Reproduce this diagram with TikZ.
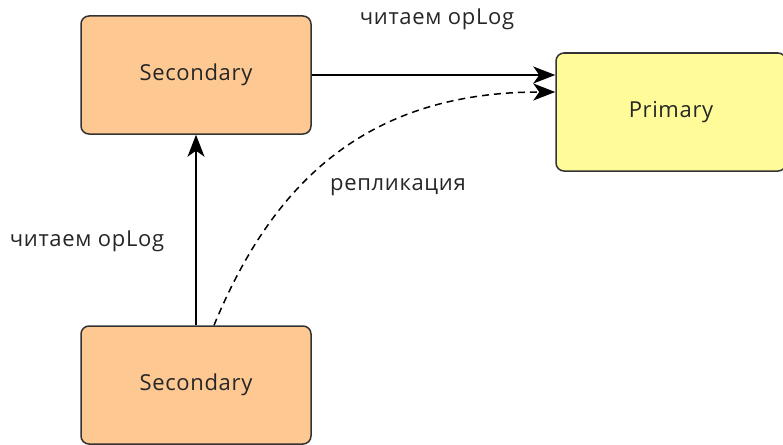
\documentclass[tikz,border=0pt]{standalone}
\usepackage{fontspec}
\setmainfont{Open Sans}[LetterSpace=3]
\usetikzlibrary{arrows.meta}
\definecolor{secfill}{HTML}{FEC893}
\definecolor{primfill}{HTML}{FEFB98}
\definecolor{edge}{HTML}{333333}
\tikzset{
  box/.style={draw=edge, line width=1.5pt, rounded corners=8pt, minimum width=230pt, minimum height=118pt, inner sep=0pt, font=\fontsize{22}{26}\selectfont, text=black!85},
  lbl/.style={font=\fontsize{22}{26}\selectfont, text=black!85, inner sep=0pt},
  conn/.style={line width=1.5pt, -{Stealth[length=22pt,width=17pt,inset=6pt]}},
}
\begin{document}
\begin{tikzpicture}[x=1pt,y=-1pt]
\useasboundingbox (0,0) rectangle (783,444);
\clip (0,0) rectangle (783,444);
\node[box, fill=secfill] (s1) at (196,75) {Secondary};
\node[box, fill=secfill] (s2) at (196,385) {Secondary};
\node[box, fill=primfill] (p) at (671,112) {Primary};
\draw[conn] (s1.east) -- (s1.east -| p.west);
\coordinate (dstart) at ([xshift=18pt]s2.north);
\coordinate (dend) at ([yshift=20pt]p.west);
\draw[conn, dash pattern=on 7pt off 5pt] (dstart) .. controls (270,190) and (360,92) .. (dend);
\draw[conn] (s2.north) -- (s1.south);
\node[lbl] (l1) at (437,19) {читаем opLog};
\node[lbl] (l2) at (398,187) {репликация};
\node[lbl] (l3) at (87,241) {читаем opLog};
\end{tikzpicture}
\end{document}
